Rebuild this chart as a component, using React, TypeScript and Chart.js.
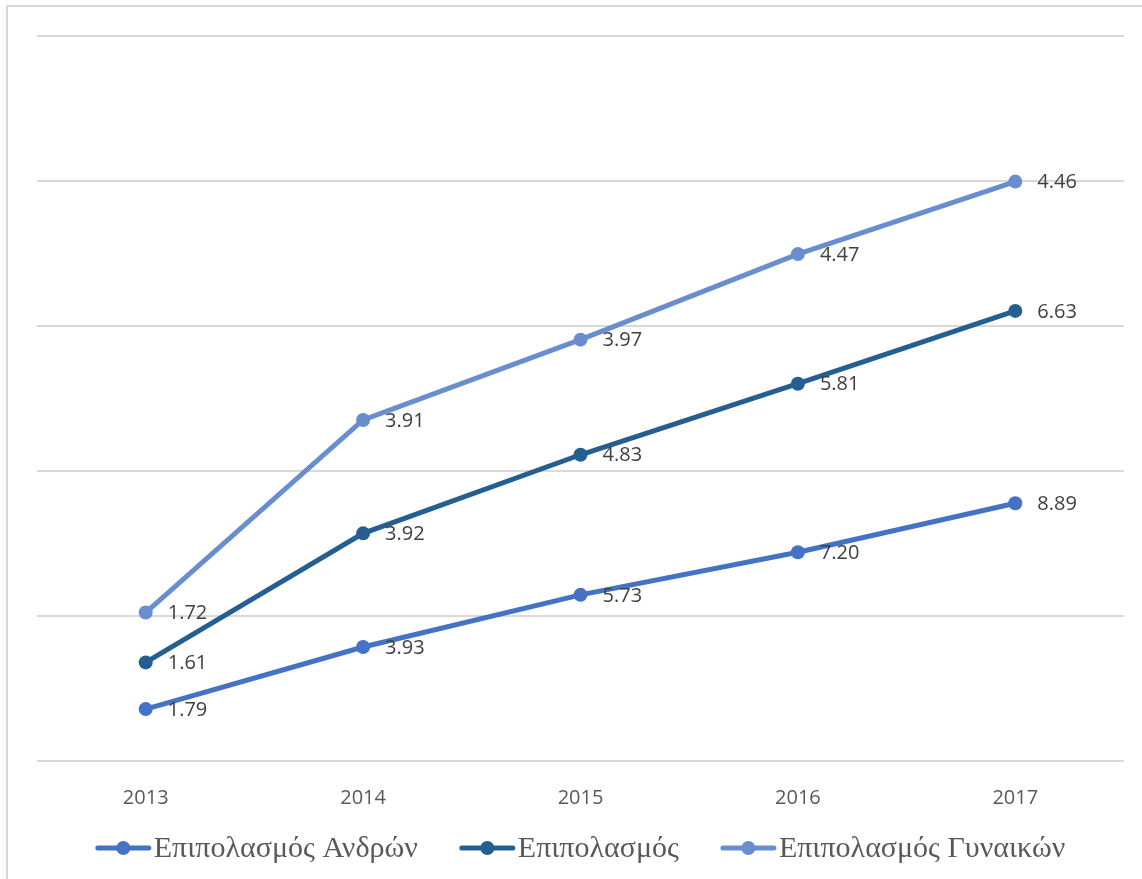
import React, { useEffect, useRef } from "react";
import { Chart, registerables } from "chart.js";

Chart.register(...registerables);

const years = ["2013", "2014", "2015", "2016", "2017"];
const menValues = [1.79, 3.93, 5.73, 7.2, 8.89];
const totalValues = [1.61, 3.92, 4.83, 5.81, 6.63];
const womenValues = [1.72, 3.91, 3.97, 4.47, 4.46];
const seriesNames = ["Επιπολασμός Ανδρών", "Επιπολασμός", "Επιπολασμός Γυναικών"];
const seriesColors = ["#4472C4", "#255E91", "#698ED0"];

const W = 1142;
const H = 879;

// Value labels to the right of each point
const valueLabels = {
  id: "valueLabels",
  afterDatasetsDraw(chart: any) {
    const ctx = chart.ctx;
    ctx.save();
    ctx.font = "20px 'Open Sans'";
    ctx.fillStyle = "#404040";
    ctx.textAlign = "left";
    ctx.textBaseline = "middle";
    chart.data.datasets.forEach((ds: any, i: number) => {
      const meta = chart.getDatasetMeta(i);
      meta.data.forEach((pt: any, j: number) => {
        ctx.fillText(Number(ds.data[j]).toFixed(2), pt.x + 22, pt.y + 1);
      });
    });
    ctx.restore();
  },
};

// Legend with line-and-marker swatches along the bottom
const lineLegend = {
  id: "lineLegend",
  afterDraw(chart: any) {
    const ctx = chart.ctx;
    const area = chart.chartArea;
    const y = 848;
    const swatch = 55;
    const gapText = 3;
    const gapItem = 42;
    ctx.save();
    ctx.font = "30px 'Liberation Serif'";
    const widths = seriesNames.map((n) => ctx.measureText(n).width);
    const total =
      widths.reduce((a, b) => a + b, 0) +
      seriesNames.length * (swatch + gapText) +
      gapItem * (seriesNames.length - 1);
    let x = (area.left + area.right) / 2 - total / 2;
    seriesNames.forEach((name, i) => {
      ctx.strokeStyle = seriesColors[i];
      ctx.lineWidth = 5;
      ctx.lineCap = "round";
      ctx.beginPath();
      ctx.moveTo(x + 2, y);
      ctx.lineTo(x + swatch - 2, y);
      ctx.stroke();
      ctx.fillStyle = seriesColors[i];
      ctx.beginPath();
      ctx.arc(x + swatch / 2, y, 7, 0, Math.PI * 2);
      ctx.fill();
      ctx.fillStyle = "#595959";
      ctx.textAlign = "left";
      ctx.textBaseline = "middle";
      ctx.fillText(name, x + swatch + gapText, y + 1);
      x += swatch + gapText + widths[i] + gapItem;
    });
    ctx.restore();
  },
};

export default function App() {
  const canvasRef = useRef<HTMLCanvasElement | null>(null);

  useEffect(() => {
    if (!canvasRef.current) return;
    const makeSet = (label: string, data: number[], color: string) => ({
      label,
      data,
      borderColor: color,
      backgroundColor: color,
      borderWidth: 5,
      pointRadius: 7,
      pointHoverRadius: 7,
      pointBorderWidth: 0,
      fill: false,
      tension: 0,
    });
    const chart = new Chart(canvasRef.current, {
      type: "line",
      data: {
        labels: years,
        datasets: [
          makeSet(seriesNames[0], menValues, seriesColors[0]),
          makeSet(seriesNames[1], totalValues, seriesColors[1]),
          makeSet(seriesNames[2], womenValues, seriesColors[2]),
        ],
      },
      options: {
        animation: false,
        responsive: false,
        layout: { padding: { left: 37, right: 18, top: 36, bottom: 0 } },
        plugins: {
          legend: { display: false },
          tooltip: { enabled: false },
        },
        scales: {
          x: {
            offset: true,
            grid: { display: false },
            border: { display: false },
            ticks: {
              color: "#595959",
              font: { family: "'Open Sans'", size: 20 },
              padding: 17,
            },
            afterFit: (scale: any) => {
              scale.height = H - 761;
            },
          },
          y: {
            stacked: true,
            min: 0,
            max: 25,
            ticks: { display: false, stepSize: 5 },
            grid: { color: "#d9d9d9", lineWidth: 2, drawTicks: false },
            border: { display: false },
            afterFit: (scale: any) => {
              scale.width = 0;
            },
          },
        },
      },
      plugins: [valueLabels, lineLegend],
    });
    return () => chart.destroy();
  }, []);

  return (
    <div style={{ position: "absolute", left: 0, top: 0, width: W, height: H, background: "#fff", overflow: "hidden" }}>
      <div
        style={{
          position: "absolute",
          left: 6,
          top: 5,
          width: W,
          height: H,
          borderLeft: "2px solid #d9d9d9",
          borderTop: "2px solid #d9d9d9",
        }}
      />
      <canvas ref={canvasRef} width={W} height={H} style={{ position: "absolute", left: 0, top: 0 }} />
    </div>
  );
}
